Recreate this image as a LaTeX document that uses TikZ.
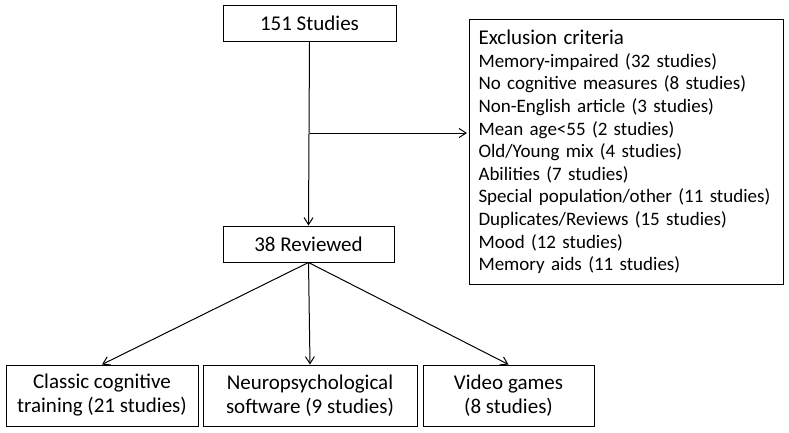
\documentclass[tikz,border=0pt]{standalone}
\usepackage{fontspec}
\setmainfont{Carlito}
\usepackage{tikz}
\usetikzlibrary{arrows.meta,calc,positioning}

\begin{document}
\begin{tikzpicture}[x=1pt,y=-1pt,
  box/.style={draw,line width=1pt,inner sep=0pt,align=center,font=\fontsize{21}{24}\selectfont},
  link/.style={line width=1pt,-{Straight Barb[length=7pt,width=9pt,line width=1pt]}}]
\useasboundingbox (0,0) rectangle (789,432);
\node[box,minimum width=173,minimum height=36] (studies) at (309.5,23) {151 Studies};
\node[box,minimum width=171,minimum height=36] (reviewed) at (308.5,244) {38 Reviewed};
\node[box,anchor=north west,minimum width=314,minimum height=265,text width=296,inner xsep=9pt,align=left,
  font=\fontsize{19}{22.6}\selectfont] (excl) at (469,19) {{\fontsize{21}{22.6}\selectfont Exclusion criteria}\\
Memory-impaired (32 studies)\\
No cognitive measures (8 studies)\\
Non-English article (3 studies)\\
Mean age<55 (2 studies)\\
Old/Young mix (4 studies)\\
Abilities (7 studies)\\
Special population/other (11 studies)\\
Duplicates/Reviews (15 studies)\\
Mood (12 studies)\\
Memory aids (11 studies)};
\node[box,minimum width=192,minimum height=61] (classic) at (102,395.5) {Classic cognitive\\training (21 studies)};
\node[box,minimum width=214,minimum height=61] (neuro) at (310,395.5) {Neuropsychological\\software (9 studies)};
\node[box,minimum width=171,minimum height=61] (video) at (508.5,395.5) {Video games\\(8 studies)};
\coordinate (split) at (studies.south |- 0,133);
\draw[link] (studies.south) -- (reviewed.north);
\draw[link,shorten >=2pt] (split) -- (split -| excl.west);
\draw[link] (reviewed.south) -- (classic.north);
\draw[link] (reviewed.south) -- (neuro.north);
\draw[link] (reviewed.south) -- (video.north);
\end{tikzpicture}
\end{document}
